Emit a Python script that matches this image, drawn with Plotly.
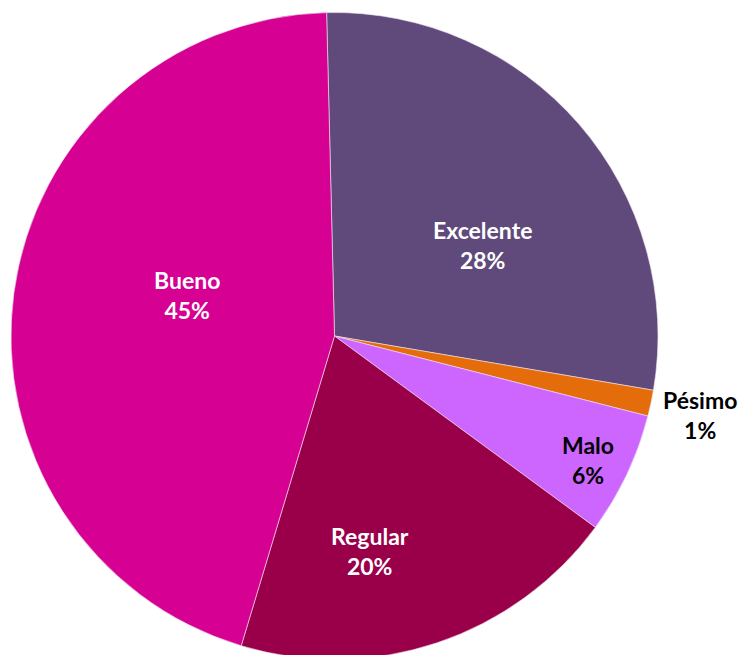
import plotly.graph_objects as go

# Survey answers (share of responses)
categories = ["Excelente", "Pésimo", "Malo", "Regular", "Bueno"]
values = [28.1, 1.3, 6.1, 19.6, 45.0]
colors = ["#604A7B", "#E46C0A", "#CC66FF", "#990049", "#D60093"]
text_colors = ["white", "black", "black", "white", "white"]
# label centres in pixels (x, y from top), as Excel placed them
label_px = [(482, 245), (700, 415), (588, 460), (370, 551), (187, 295)]

W, H = 741, 700

fig = go.Figure(go.Pie(
    labels=categories,
    values=values,
    sort=False,
    direction="clockwise",
    rotation=-1.4,
    marker=dict(colors=colors, line=dict(color="#F2E6F2", width=0.6)),
    textinfo="none",
    showlegend=False,
    hoverinfo="label+percent",
    domain=dict(x=[11 / W, 658 / W], y=[1 - 660 / H, 1 - 12 / H]),
))

total = sum(values)
for cat, val, col, (px, py) in zip(categories, values, text_colors, label_px):
    fig.add_annotation(
        x=px / W, y=1 - py / H, xref="paper", yref="paper",
        text=f"<b>{cat}</b><br><b>{round(100 * val / total)}%</b>",
        showarrow=False, xanchor="center", yanchor="middle",
        font=dict(family="Lato", size=23, color=col),
    )

fig.update_layout(
    width=W,
    height=H,
    margin=dict(l=0, r=0, t=0, b=0),
    paper_bgcolor="white",
    plot_bgcolor="white",
)

fig.write_html(
    "out.html",
    config={"displayModeBar": False},
    post_script="document.body.style.margin='0';document.body.style.overflow='hidden';",
)
